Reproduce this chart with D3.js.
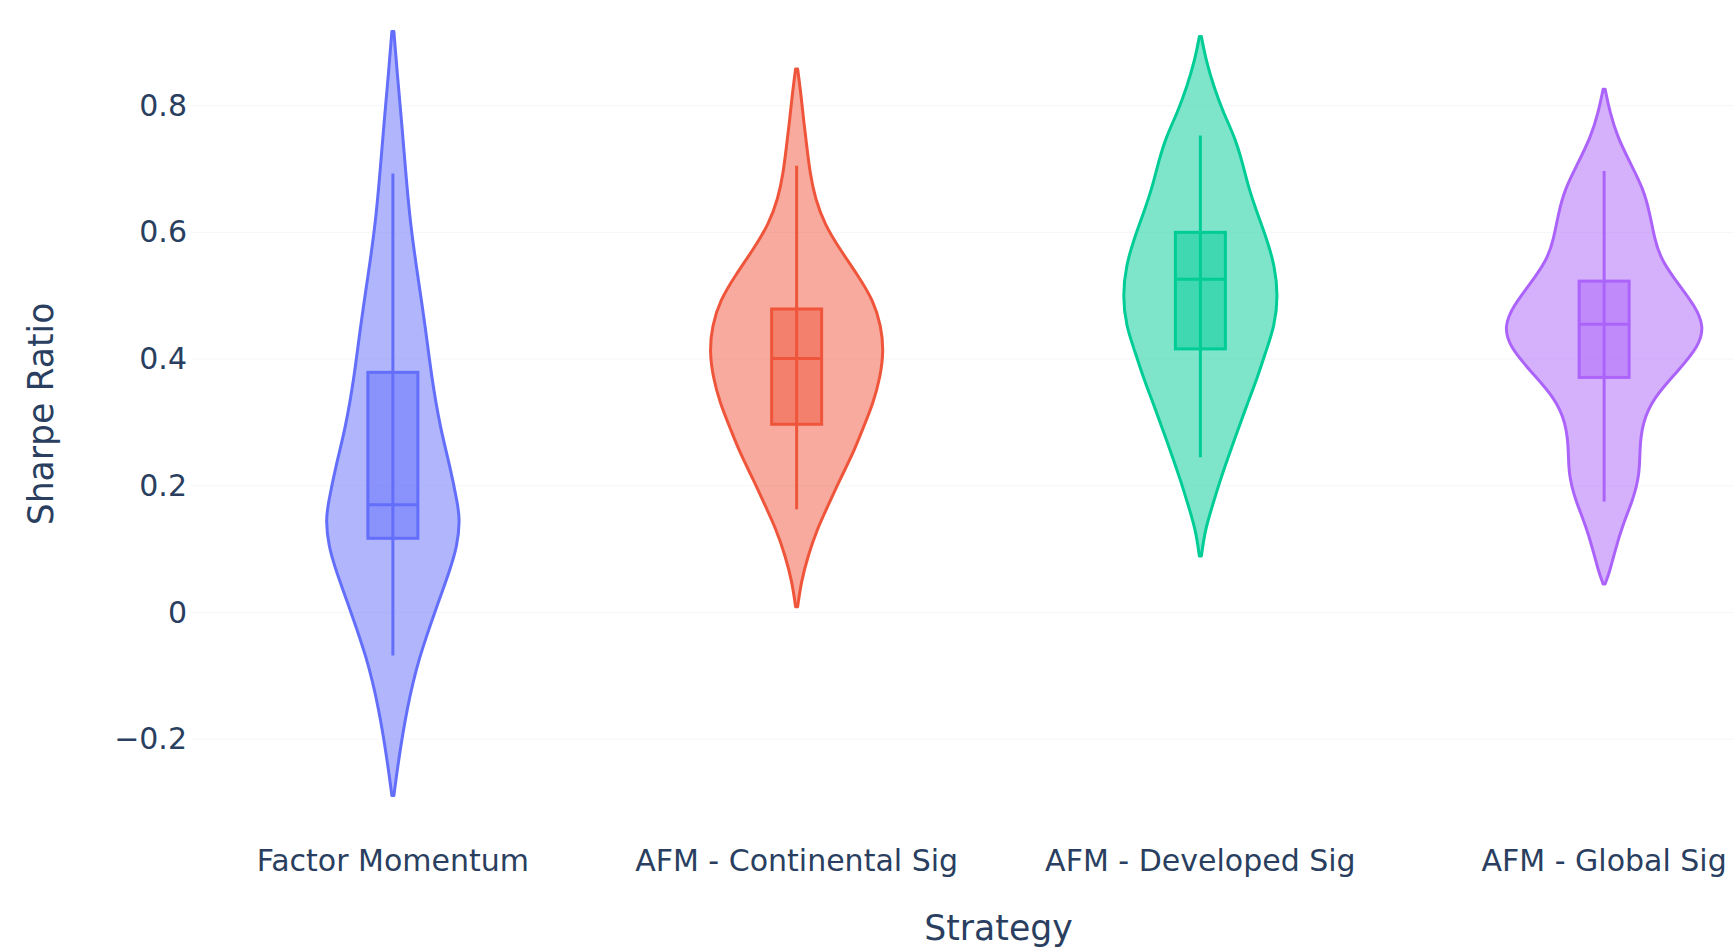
<!DOCTYPE html>
<html>
<head>
<meta charset="utf-8">
<script src="https://cdn.jsdelivr.net/npm/d3@7"></script>
<style>
  body { margin: 0; background: #fff; }
  svg { display: block; }
</style>
</head>
<body>
<div id="violin"></div>
<script>
const strategies = ['Factor Momentum', 'AFM - Continental Sig', 'AFM - Developed Sig', 'AFM - Global Sig']
const yTicks = [-0.2, 0, 0.2, 0.4, 0.6, 0.8]

// box stats per strategy
const lowerFence = [-0.068, 0.163, 0.245, 0.175]
const q1 = [0.117, 0.297, 0.416, 0.371]
const median = [0.170, 0.401, 0.526, 0.455]
const q3 = [0.379, 0.479, 0.600, 0.523]
const upperFence = [0.693, 0.705, 0.753, 0.697]

// violin outlines: sharpe value and relative density
const fmSharpe = [0.917, 0.855, 0.774, 0.693, 0.613, 0.532, 0.452, 0.371, 0.291, 0.234, 0.170, 0.146, 0.105, 0.065, 0.009, -0.072, -0.152, -0.233, -0.289]
const fmDensity = [0.01, 0.041, 0.087, 0.128, 0.173, 0.245, 0.321, 0.383, 0.469, 0.561, 0.643, 0.663, 0.638, 0.561, 0.434, 0.255, 0.138, 0.056, 0.01]
const contSharpe = [0.858, 0.814, 0.774, 0.734, 0.693, 0.653, 0.613, 0.573, 0.532, 0.492, 0.452, 0.412, 0.371, 0.331, 0.291, 0.250, 0.210, 0.170, 0.130, 0.089, 0.049, 0.009]
const contDensity = [0.01, 0.046, 0.071, 0.102, 0.133, 0.184, 0.276, 0.429, 0.607, 0.760, 0.837, 0.862, 0.827, 0.760, 0.658, 0.556, 0.429, 0.316, 0.199, 0.112, 0.046, 0.01]
const devSharpe = [0.909, 0.871, 0.830, 0.790, 0.750, 0.709, 0.669, 0.629, 0.589, 0.548, 0.500, 0.452, 0.412, 0.371, 0.331, 0.291, 0.250, 0.210, 0.170, 0.130, 0.089]
const devDensity = [0.01, 0.056, 0.133, 0.224, 0.342, 0.418, 0.480, 0.566, 0.658, 0.735, 0.770, 0.735, 0.648, 0.566, 0.469, 0.378, 0.286, 0.199, 0.122, 0.046, 0.01]
const globSharpe = [0.826, 0.790, 0.750, 0.709, 0.669, 0.629, 0.589, 0.556, 0.516, 0.484, 0.452, 0.420, 0.379, 0.339, 0.299, 0.258, 0.218, 0.178, 0.138, 0.097, 0.065, 0.045]
const globDensity = [0.01, 0.056, 0.133, 0.260, 0.388, 0.454, 0.500, 0.566, 0.745, 0.898, 0.990, 0.939, 0.719, 0.490, 0.378, 0.352, 0.352, 0.286, 0.184, 0.107, 0.056, 0.01]

const outlines = [[fmSharpe, fmDensity], [contSharpe, contDensity], [devSharpe, devDensity], [globSharpe, globDensity]]
const colors = ['#636efa', '#EF553B', '#00cc96', '#ab63fa']

const width = 1734,
  height = 948,
  plot = {left: 191, right: 1806, top: 22, bottom: 812},
  font = 'DejaVu Sans, Verdana, sans-serif',
  textColor = '#2a3f5f'

const xScale = d3.scaleBand()
  .domain(strategies)
  .range([plot.left, plot.right])
const yScale = d3.scaleLinear()
  .domain([-0.315, 0.932])
  .range([plot.bottom, plot.top])
const wScale = d3.scaleLinear()
  .domain([0, 1])
  .range([0, 101])
const boxHalf = 25

const svg = d3.select('#violin').append('svg')
  .attr('width', width)
  .attr('height', height)
  .style('background', '#fff')

svg.append('g')
  .attr('class', 'grid')
  .selectAll('line')
  .data(yTicks)
  .enter().append('line')
  .attr('x1', plot.left)
  .attr('x2', plot.right)
  .attr('y1', d => yScale(d))
  .attr('y2', d => yScale(d))
  .attr('stroke', '#f5f6f8')
  .attr('stroke-width', 1)

const yAxis = svg.append('g')
  .attr('transform', `translate(${plot.left},0)`)
  .call(d3.axisLeft(yScale).tickValues(yTicks).tickSize(0).tickPadding(4).tickFormat(d3.format('~g')))
yAxis.select('.domain').remove()
yAxis.selectAll('text')
  .style('font-family', font)
  .style('font-size', '30px')
  .attr('fill', textColor)

const xAxis = svg.append('g')
  .attr('transform', `translate(0,${plot.bottom})`)
  .call(d3.axisBottom(xScale).tickSize(0).tickPadding(38))
xAxis.select('.domain').remove()
xAxis.selectAll('text')
  .style('font-family', font)
  .style('font-size', '30px')
  .attr('fill', textColor)

const area = cx => d3.area()
  .y(d => yScale(d[0]))
  .x0(d => cx - wScale(d[1]))
  .x1(d => cx + wScale(d[1]))
  .curve(d3.curveBasis)

const violins = svg.append('g').attr('class', 'violins')
strategies.forEach((s, i) => {
  const cx = xScale(s) + xScale.bandwidth() / 2
  const pts = outlines[i][0].map((v, j) => [v, outlines[i][1][j]])
  const c = colors[i]
  const g = violins.append('g')

  g.append('path')
    .datum(pts)
    .attr('d', area(cx))
    .attr('fill', c)
    .attr('fill-opacity', 0.5)
    .attr('stroke', c)
    .attr('stroke-width', 3)
    .attr('stroke-linejoin', 'round')

  g.append('line')
    .attr('x1', cx).attr('x2', cx)
    .attr('y1', yScale(upperFence[i]))
    .attr('y2', yScale(lowerFence[i]))
    .attr('stroke', c)
    .attr('stroke-width', 3)

  g.append('rect')
    .attr('x', cx - boxHalf)
    .attr('width', boxHalf * 2)
    .attr('y', yScale(q3[i]))
    .attr('height', yScale(q1[i]) - yScale(q3[i]))
    .attr('fill', c)
    .attr('fill-opacity', 0.5)
    .attr('stroke', c)
    .attr('stroke-width', 3)

  g.append('line')
    .attr('x1', cx - boxHalf).attr('x2', cx + boxHalf)
    .attr('y1', yScale(median[i]))
    .attr('y2', yScale(median[i]))
    .attr('stroke', c)
    .attr('stroke-width', 3)
})

svg.append('text')
  .text('Strategy')
  .attr('x', (plot.left + plot.right) / 2)
  .attr('y', 940)
  .attr('text-anchor', 'middle')
  .style('font-family', font)
  .style('font-size', '34.65px')
  .attr('fill', textColor)

svg.append('text')
  .text('Sharpe Ratio')
  .attr('transform', 'translate(52.7,414) rotate(-90)')
  .attr('text-anchor', 'middle')
  .style('font-family', font)
  .style('font-size', '34.65px')
  .attr('fill', textColor)
</script>
</body>
</html>
